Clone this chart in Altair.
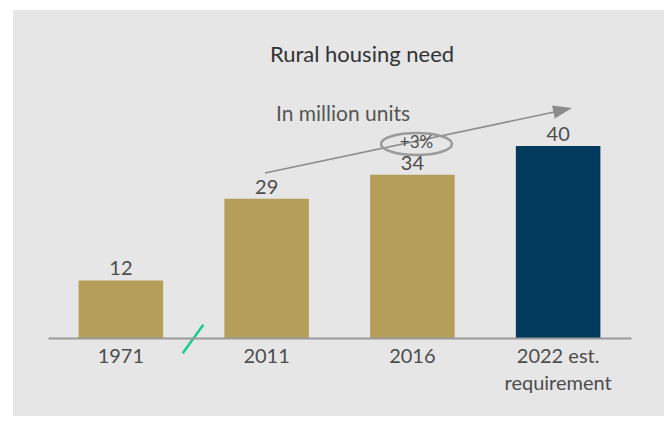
import altair as alt
import pandas as pd

# ---- data ----
categories = ["1971", "2011", "2016", "2022 est. requirement"]
values = [12, 29, 34, 40]
kinds = ["actual", "actual", "actual", "estimate"]

title_text = "Rural housing need"
subtitle_text = "In million units"
growth_text = "+3%"

FONT = "Lato"
TXT = "#4d4d4d"
GOLD = "#b59d5a"
NAVY = "#023a5e"
PANEL = "#e6e6e6"

df = pd.DataFrame({"cat": categories, "val": values, "kind": kinds})

W, H = 583, 192

one = pd.DataFrame({"a": [0]})

panel = alt.Chart(one).mark_rect(color=PANEL).encode(
    x=alt.value(-35), x2=alt.value(616), y=alt.value(-136), y2=alt.value(270)
)

x_enc = alt.X(
    "cat:N",
    sort=categories,
    scale=alt.Scale(paddingInner=0.42, paddingOuter=0.21),
    axis=alt.Axis(
        title=None,
        labelAngle=0,
        ticks=False,
        labelFont=FONT,
        labelFontSize=20,
        labelColor=TXT,
        labelPadding=8,
        labelLineHeight=27,
        labelExpr="datum.label == '2022 est. requirement' ? ['2022 est.', 'requirement'] : datum.label",
        domainColor="#999999",
        domainWidth=2,
        zindex=1,
    ),
)
y_enc = alt.Y("val:Q", scale=alt.Scale(domain=[0, 40], nice=False, zero=True), axis=None)

bars = alt.Chart(df).mark_bar().encode(
    x=x_enc,
    y=y_enc,
    color=alt.Color("kind:N", scale=alt.Scale(domain=["actual", "estimate"], range=[GOLD, NAVY]), legend=None),
)

labels = alt.Chart(df).mark_text(
    baseline="alphabetic", dy=-5, font=FONT, fontSize=20, color=TXT
).encode(x=alt.X("cat:N", sort=categories), y="val:Q", text="val:Q")

arrow_line = alt.Chart(one).mark_rule(color="#8c8c8c", strokeWidth=1.5).encode(
    x=alt.value(217), x2=alt.value(516), y=alt.value(27), y2=alt.value(-36)
)
arrow_head = alt.Chart(one).mark_point(
    shape="M0,0L-2,-0.7L-2,0.7Z", size=361, angle=348, filled=True, color="#8c8c8c", opacity=1
).encode(x=alt.value(524), y=alt.value(-38))

ellipse = alt.Chart(one).mark_point(
    shape="M-1,0A1,0.31,0,1,1,1,0A1,0.31,0,1,1,-1,0Z",
    size=5041, filled=False, strokeWidth=2.5, color="#9a9a9a", opacity=1,
).encode(x=alt.value(368.5), y=alt.value(-2))

growth = alt.Chart(one).mark_text(
    text=growth_text, font=FONT, fontSize=17, color=TXT, baseline="middle", align="center"
).encode(x=alt.value(368.5), y=alt.value(-3))

title = alt.Chart(one).mark_text(
    text=title_text, font=FONT, fontSize=22, color="#333333", baseline="middle", align="center"
).encode(x=alt.value(314), y=alt.value(-91))

subtitle = alt.Chart(one).mark_text(
    text=subtitle_text, font=FONT, fontSize=21, color="#555555", baseline="middle", align="center"
).encode(x=alt.value(295), y=alt.value(-31))

slash = alt.Chart(one).mark_rule(color="#1dc993", strokeWidth=2.5).encode(
    x=alt.value(134.7), x2=alt.value(155.3), y=alt.value(207.3), y2=alt.value(178.7)
)

chart = (
    alt.layer(panel, bars, labels, arrow_line, arrow_head, ellipse, growth, title, subtitle, slash)
    .properties(
        width=W,
        height=H,
        autosize=alt.AutoSizeParams(type="none"),
        padding={"left": 40, "top": 138, "right": 33, "bottom": 78},
        background="white",
    )
    .configure_view(stroke=None)
)

chart.save("out.html", embed_options={"renderer": "svg", "actions": False})
